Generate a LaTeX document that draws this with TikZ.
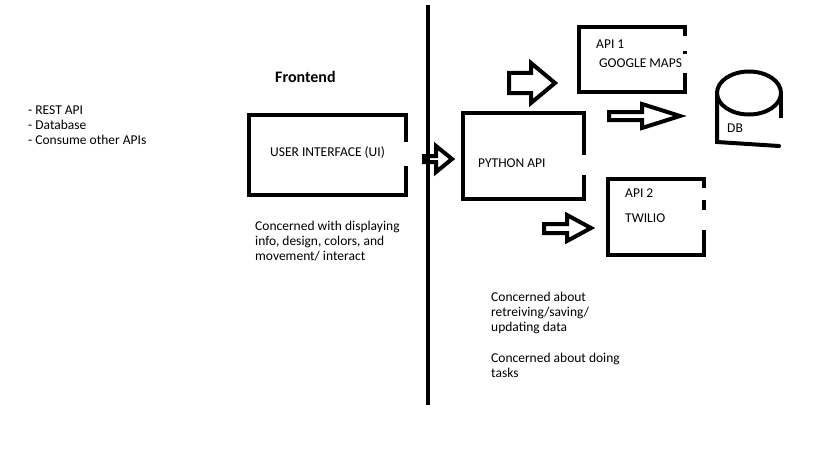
\documentclass[tikz,border=0pt]{standalone}
\usepackage{fontspec}
\setmainfont{Carlito}

\begin{document}
\begin{tikzpicture}[x=1pt,y=-1pt,
  paint/.style={line width=4pt},
  label/.style={anchor=west, inner sep=0pt, font=\fontsize{13.5}{15}\selectfont},
  note/.style={anchor=north west, inner sep=0pt, align=left, font=\fontsize{13.5}{15}\selectfont}]
\useasboundingbox (0,0) rectangle (819,460);

% dividing line
\draw[paint] (428,5) -- (428,405);

% left list and frontend side
\node[note] (features) at (28,106) {- REST API\\- Database\\- Consume other APIs};
\node[label, font=\fontsize{16}{18}\selectfont\bfseries] (frontend) at (275,77) {Frontend};

\draw[paint] (406,142) -- (406,115) -- (249,115) -- (249,195) -- (406,195) -- (406,166);
\node[label] (ui) at (270,152) {USER INTERFACE (UI)};
\node[note] (uinote) at (255,221) {Concerned with displaying\\info, design, colors, and\\movement/ interact};

% arrow into the api
\draw[paint, line join=miter] (424,156) -- (436,156) -- (436,146) -- (452,159) -- (436,172) -- (436,162) -- (424,162) -- cycle;

% python api
\draw[paint] (584,155) -- (584,113) -- (463,113) -- (463,199) -- (584,199) -- (584,175);
\node[label] (python) at (478,163) {PYTHON API};
\node[note] (pynote) at (491,292) {Concerned about\\retreiving/saving/\\updating data};
\node[note] (tasknote) at (491,352.5) {Concerned about doing\\tasks};

% google maps
\draw[paint] (685,36) -- (685,27) -- (579,27) -- (579,92) -- (685,92) -- (685,73);
\draw[paint] (685,51) -- (685,54);
\node[label] (api1) at (596,44) {API 1};
\node[label] (gmaps) at (599,63) {GOOGLE MAPS};
\draw[paint, line join=miter] (509,73) -- (531,73) -- (531,63) -- (555,83) -- (531,103) -- (531,93) -- (509,93) -- cycle;

% db
\draw[paint, line join=miter] (609,112) -- (642,112) -- (642,104) -- (680,116) -- (642,128) -- (642,120) -- (609,120) -- cycle;
\draw[paint] (749,93) ellipse [x radius=32, y radius=21.5];
\draw[paint, line cap=round] (717,95) -- (717,142) -- (779,146);
\draw[paint] (781,95) -- (781,118);
\node[label] (db) at (727,128) {DB};

% twilio
\draw[paint] (704,188) -- (704,179) -- (608,179) -- (608,255) -- (704,255) -- (704,230);
\draw[paint] (704,200) -- (704,210);
\node[label] (api2) at (625,193) {API 2};
\node[label] (twilio) at (625,218) {TWILIO};
\draw[paint, line join=miter] (544,224) -- (567,224) -- (567,215) -- (591,228) -- (567,241) -- (567,233) -- (544,233) -- cycle;

\end{tikzpicture}
\end{document}
